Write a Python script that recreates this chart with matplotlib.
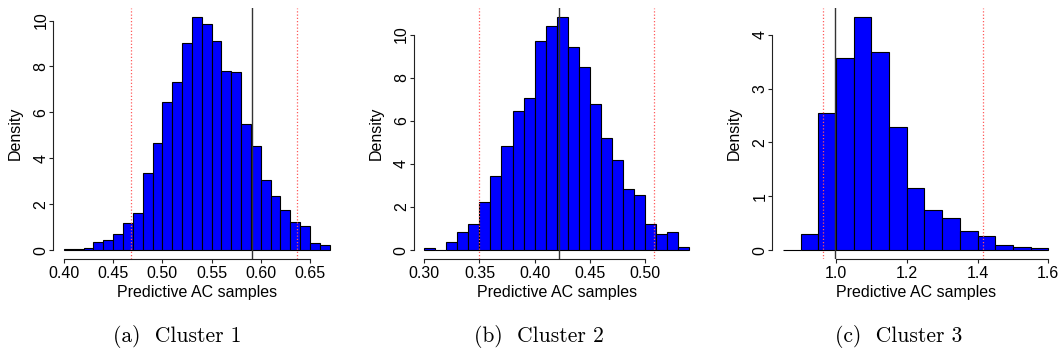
import numpy as np
import matplotlib
matplotlib.use("Agg")
import matplotlib.pyplot as plt

OUTPUT_PATH = "out.png"

# cluster 1: bins of width 0.01 from 0.40 to 0.67
cluster1_edges = np.linspace(0.40, 0.67, 28)
cluster1_density = [0.03, 0.03, 0.07, 0.35, 0.44, 0.68, 1.19, 1.60, 3.34, 4.65,
	6.47, 7.31, 9.01, 10.16, 9.85, 9.11, 7.81, 7.75, 5.48, 4.55,
	3.04, 2.35, 1.76, 1.24, 1.06, 0.31, 0.22]
cluster1_observed = 0.591
cluster1_interval = [0.4685, 0.637]
cluster1_xticks = [0.40, 0.45, 0.50, 0.55, 0.60, 0.65]
cluster1_yticks = [0, 2, 4, 6, 8, 10]

# cluster 2: bins of width 0.01 from 0.30 to 0.54
cluster2_edges = np.linspace(0.30, 0.54, 25)
cluster2_density = [0.08, 0.02, 0.37, 0.82, 1.19, 2.25, 3.44, 4.82, 6.47, 7.04,
	9.69, 10.39, 10.82, 9.44, 8.51, 6.76, 5.21, 4.16, 2.82, 2.57,
	1.19, 0.76, 0.82, 0.16]
cluster2_observed = 0.4225
cluster2_interval = [0.350, 0.508]
cluster2_xticks = [0.30, 0.35, 0.40, 0.45, 0.50]
cluster2_yticks = [0, 2, 4, 6, 8, 10]

# cluster 3: bins of width 0.05 from 0.85 to 1.60
cluster3_edges = np.linspace(0.85, 1.60, 16)
cluster3_density = [0.005, 0.29, 2.54, 3.57, 4.33, 3.67, 2.29, 1.16, 0.74, 0.59,
	0.35, 0.27, 0.09, 0.05, 0.04]
cluster3_observed = 0.998
cluster3_interval = [0.962, 1.416]
cluster3_xticks = [1.0, 1.2, 1.4, 1.6]
cluster3_yticks = [0, 1, 2, 3, 4]

captions = ["(a)  Cluster 1", "(b)  Cluster 2", "(c)  Cluster 3"]

FIG_W = 1061
FIG_H = 354
# plot regions in pixels: left, right (top/bottom shared)
PANEL_PX = [(53.3, 340.3), (413.7, 699.6), (772.3, 1058.9)]
TOP_PX = 7.6
BOTTOM_PX = 259.4
CAPTION_X_PX = [177, 539, 899]
CAPTION_Y_PX = 336


def draw_panel(ax, edges, density, observed, interval, xticks, yticks):
	widths = np.diff(edges)
	ax.bar(edges[:-1], density, width=widths, align="edge", color="#0000FF",
		edgecolor="black", linewidth=0.8, zorder=2)

	# R style 4% padding around the data range
	xr = edges[-1] - edges[0]
	ax.set_xlim(edges[0] - 0.04 * xr, edges[-1] + 0.04 * xr)
	ymax = max(density)
	ax.set_ylim(-0.04 * ymax, ymax * 1.04)

	ax.axvline(observed, color="#333333", linewidth=1.0, zorder=3)
	for v in interval:
		ax.axvline(v, color="#ff5a5a", linewidth=0.9, linestyle=(0, (1, 1.6)), zorder=3)

	for side in ["top", "right"]:
		ax.spines[side].set_visible(False)
	ax.spines["left"].set_bounds(yticks[0], yticks[-1])
	ax.spines["bottom"].set_bounds(xticks[0], xticks[-1])
	for side in ["left", "bottom"]:
		ax.spines[side].set_linewidth(0.8)
		ax.spines[side].set_color("#222222")

	ax.set_xticks(xticks)
	ax.set_xticklabels(["%.2f" % t if t < 0.9 else "%.1f" % t for t in xticks])
	ax.set_yticks(yticks)
	ax.set_yticklabels([str(t) for t in yticks])
	ax.tick_params(axis="both", length=3, width=0.8, color="#222222", labelsize=11.5)
	ax.tick_params(axis="x", pad=1.5)
	ax.tick_params(axis="y", pad=0.5, labelrotation=90)
	for lbl in ax.get_yticklabels():
		lbl.set_verticalalignment("center")

	ax.set_xlabel("Predictive AC samples", fontsize=11.5)
	ax.set_ylabel("Density", fontsize=11.5)
	ax.xaxis.set_label_coords(0.5, -0.10)
	ax.yaxis.set_label_coords(-0.105, 0.5)


def main():
	plt.rcParams["font.family"] = ["Liberation Sans", "DejaVu Sans"]
	fig = plt.figure(figsize=(FIG_W / 100, FIG_H / 100), dpi=100)

	panels = [
		(cluster1_edges, cluster1_density, cluster1_observed, cluster1_interval, cluster1_xticks, cluster1_yticks),
		(cluster2_edges, cluster2_density, cluster2_observed, cluster2_interval, cluster2_xticks, cluster2_yticks),
		(cluster3_edges, cluster3_density, cluster3_observed, cluster3_interval, cluster3_xticks, cluster3_yticks),
	]

	for i, panel in enumerate(panels):
		left, right = PANEL_PX[i]
		ax = fig.add_axes([left / FIG_W, 1 - BOTTOM_PX / FIG_H,
			(right - left) / FIG_W, (BOTTOM_PX - TOP_PX) / FIG_H])
		draw_panel(ax, *panel)
		fig.text(CAPTION_X_PX[i] / FIG_W, 1 - CAPTION_Y_PX / FIG_H, captions[i],
			ha="center", va="center", family="cmr10", fontsize=15.5)

	fig.savefig(OUTPUT_PATH, dpi=100)


if __name__ == "__main__":
	main()
